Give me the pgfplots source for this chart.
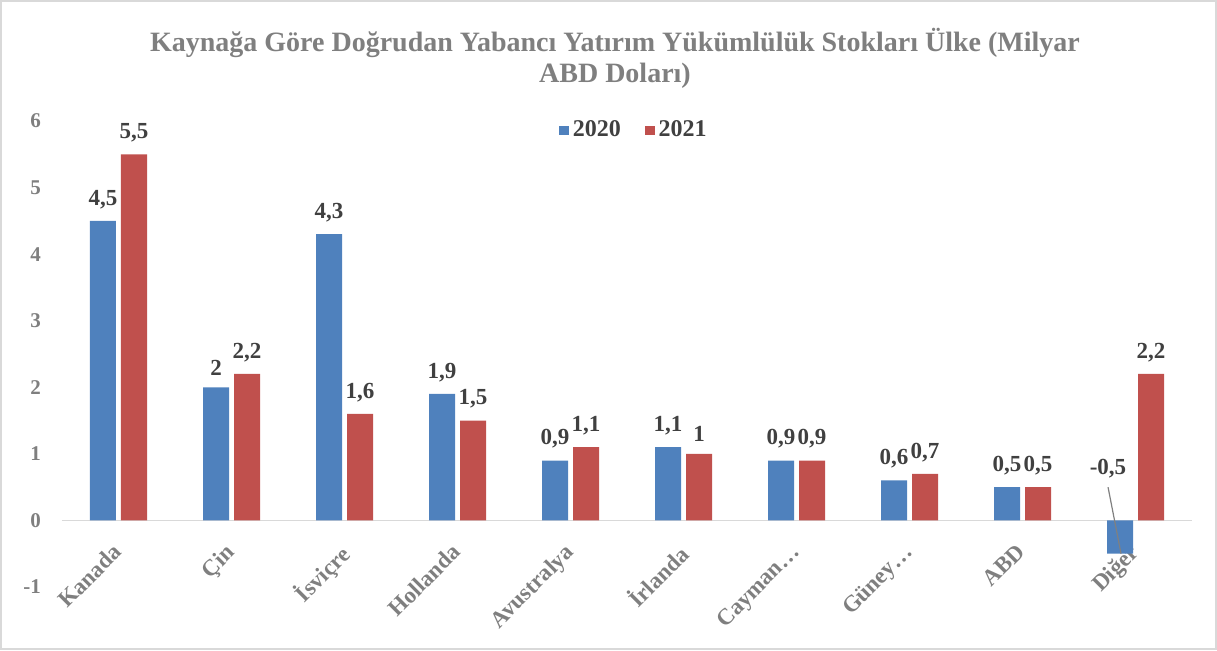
\documentclass[border=0pt]{standalone}
\usepackage{pgfplots}
\pgfplotsset{compat=1.18}
\usepackage{fontspec}
\setmainfont{Liberation Serif}
\definecolor{cblue}{HTML}{4F81BD}
\definecolor{cred}{HTML}{C0504D}
\definecolor{ctitle}{HTML}{7F7F7F}
\definecolor{clabel}{HTML}{404040}
\definecolor{cline}{HTML}{D9D9D9}
\begin{document}
\begin{tikzpicture}
\path[use as bounding box] (0pt,0pt) rectangle (608.5pt,325pt);
\draw[cline, line width=0.8pt] (0.6pt,0.6pt) rectangle (607.9pt,324.4pt);
\node[align=center, text=ctitle, font={\fontsize{14}{15.5}\selectfont\bfseries}] at (307.5pt,296pt)
  {Kaynağa Göre Doğrudan Yabancı Yatırım Yükümlülük Stokları Ülke (Milyar\\ABD Doları)};
\begin{axis}[
  at={(31pt,31.5pt)}, anchor=south west,
  scale only axis, width=565pt, height=233pt,
  xmin=-0.5, xmax=9.5, ymin=-1, ymax=6,
  ytick={-1,0,...,6},
  xtick={0,...,9},
  xticklabels={Kanada,Çin,İsviçre,Hollanda,Avustralya,İrlanda,Cayman…,Güney…,ABD,Diğer},
  axis line style={draw=none},
  tick style={draw=none},
  ybar=2.5pt, bar width=13pt,
  yticklabel style={font={\fontsize{10.5}{12}\selectfont\bfseries}, text=ctitle, xshift=-7pt},
  xticklabel style={font={\fontsize{11.5}{13}\selectfont\bfseries}, text=ctitle, xshift=-3.5pt, rotate=45, anchor=north east},
  xticklabel shift=-31.5pt,
  /pgf/number format/assume math mode=true,
  /pgf/number format/use comma,
  nodes near coords,
  every node near coord/.append style={font={\fontsize{11.5}{13}\selectfont\bfseries}, text=clabel, yshift=2.5pt},
  legend style={at={(0.507,0.98)}, anchor=center, draw=none, legend columns=2,
    font={\fontsize{12}{13}\selectfont\bfseries}, text=clabel,
    /tikz/every even column/.append style={column sep=10pt}},
  legend image code/.code={\fill[#1] (0pt,-2.4pt) rectangle (4.8pt,2.4pt);},
  clip=false,
]
\draw[cline, line width=0.9pt] (axis cs:-0.5,0) -- (axis cs:9.5,0);
\addplot[fill=cblue, draw=none,
  coordinate style/.condition={y<0}{anchor=south, yshift=32pt, xshift=-6pt}]
  coordinates {(0,4.5) (1,2) (2,4.3) (3,1.9) (4,0.9) (5,1.1) (6,0.9) (7,0.6) (8,0.5) (9,-0.5)};
\addplot[fill=cred, draw=none]
  coordinates {(0,5.5) (1,2.2) (2,1.6) (3,1.5) (4,1.1) (5,1) (6,0.9) (7,0.7) (8,0.5) (9,2.2)};
\legend{2020,2021}
\draw[gray, line width=0.6pt] (axis cs:8.757,0.5) -- (axis cs:8.872,-0.5);
\end{axis}
\end{tikzpicture}
\end{document}
